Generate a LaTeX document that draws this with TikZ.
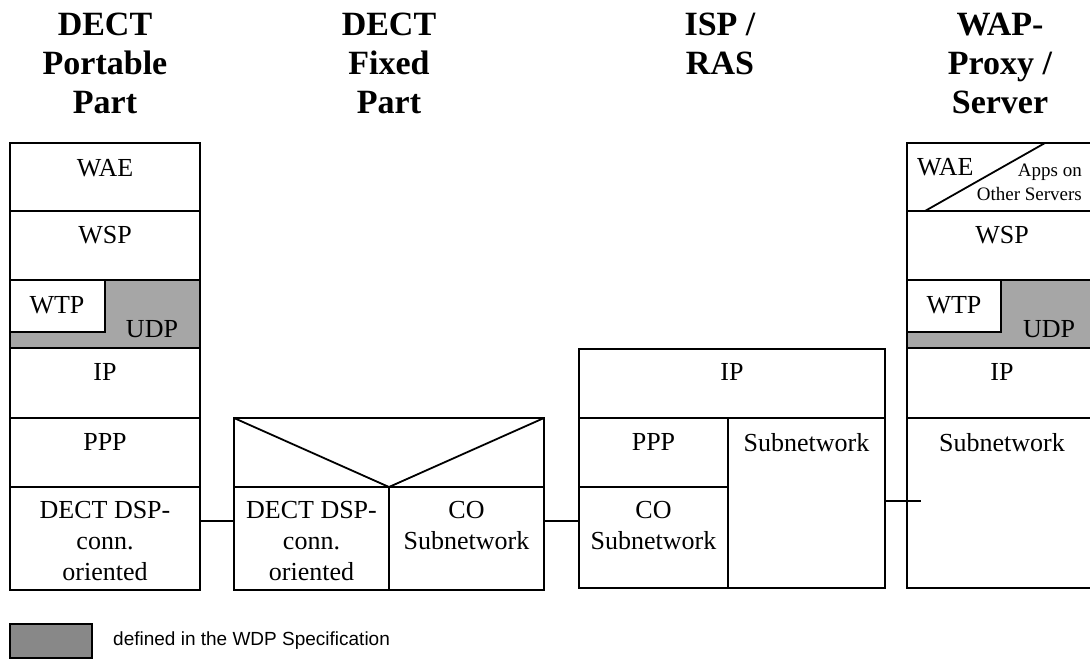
\documentclass[tikz,border=0pt]{standalone}
\usepackage{fontspec}
\setmainfont{Liberation Serif}
\newfontfamily\legfont{Liberation Sans}
\definecolor{udpgray}{RGB}{166,166,166}
\definecolor{leggray}{RGB}{136,136,136}
\begin{document}
\begin{tikzpicture}[x=1pt,y=-1pt,
  cell/.style={draw=black,line width=1.8pt,fill=white,rectangle,inner sep=0pt,outer sep=0pt,anchor=north west},
  gcell/.style={cell,fill=udpgray},
  lbl/.style={inner sep=0pt,anchor=north,align=center,font=\fontsize{26}{31}\selectfont},
  small/.style={inner sep=0pt,anchor=north east,align=right,font=\fontsize{19}{24}\selectfont},
  hdr/.style={inner sep=0pt,anchor=north,align=center,font=\fontsize{34}{39}\selectfont\bfseries},
  conn/.style={draw=black,line width=1.8pt}]
\useasboundingbox (0,0) rectangle (1090,659);
\clip (0,0) rectangle (1090,659);
\fill[white] (0,0) rectangle (1090,659);

% headers
\node[hdr] (h1) at (105,13) {DECT\\Portable\\Part};
\node[hdr] (h2) at (389,13) {DECT\\Fixed\\Part};
\node[hdr] (h3) at (720,13) {ISP /\\RAS};
\node[hdr] (h4) at (1000,13) {WAP-\\Proxy /\\Server};

% left column
\node[cell,minimum width=190pt,minimum height=68pt] (waeL) at (10,143) {};
\node[cell,minimum width=190pt,minimum height=69pt] (wspL) at (10,211) {};
\node[gcell,minimum width=190pt,minimum height=68pt] (udpL) at (10,280) {};
\node[cell,minimum width=95pt,minimum height=52pt] (wtpL) at (10,280) {};
\node[cell,minimum width=190pt,minimum height=70pt] (ipL) at (10,348) {};
\node[cell,minimum width=190pt,minimum height=69pt] (pppL) at (10,418) {};
\node[cell,minimum width=190pt,minimum height=103pt] (dectL) at (10,487) {};

\node[lbl] (tWaeL) at (105,159) {WAE};
\node[lbl] (tWspL) at (105,226) {WSP};
\node[lbl] (tWtpL) at (57,296) {WTP};
\node[lbl] (tUdpL) at (152,320) {UDP};
\node[lbl] (tIpL) at (105,363) {IP};
\node[lbl] (tPppL) at (105,433) {PPP};
\node[lbl] (tDectL) at (105,501) {DECT DSP-\\conn.\\oriented};

% DECT fixed part
\node[cell,minimum width=310pt,minimum height=69pt] (topF) at (234,418) {};
\node[cell,minimum width=155pt,minimum height=103pt] (dectF) at (234,487) {};
\node[cell,minimum width=155pt,minimum height=103pt] (coF) at (389,487) {};
\draw[line width=1.8pt] (topF.north west) -- (dectF.north east) -- (topF.north east);
\node[lbl] (tDectF) at (311.5,501) {DECT DSP-\\conn.\\oriented};
\node[lbl] (tCoF) at (466.5,501) {CO\\Subnetwork};

% ISP / RAS
\node[cell,minimum width=306pt,minimum height=69pt] (ipI) at (579,349) {};
\node[cell,minimum width=149pt,minimum height=69pt] (pppI) at (579,418) {};
\node[cell,minimum width=149pt,minimum height=101pt] (coI) at (579,487) {};
\node[cell,minimum width=157pt,minimum height=170pt] (subI) at (728,418) {};
\node[lbl] (tIpI) at (732,363) {IP};
\node[lbl] (tPppI) at (653.5,433) {PPP};
\node[lbl] (tCoI) at (653.5,501) {CO\\Subnetwork};
\node[lbl] (tSubI) at (806.5,433) {Subnetwork};

% right column
\node[cell,minimum width=190pt,minimum height=68pt] (waeR) at (907,143) {};
\node[cell,minimum width=190pt,minimum height=69pt] (wspR) at (907,211) {};
\node[gcell,minimum width=190pt,minimum height=68pt] (udpR) at (907,280) {};
\node[cell,minimum width=94pt,minimum height=52pt] (wtpR) at (907,280) {};
\node[cell,minimum width=190pt,minimum height=70pt] (ipR) at (907,348) {};
\node[cell,minimum width=190pt,minimum height=170pt] (subR) at (907,418) {};
\coordinate (dA) at (925,211);
\coordinate (dB) at (1045,143);
\draw[line width=1.8pt] (dA) -- (dB);
\node[lbl,anchor=north west] (tWaeR) at (917,158) {WAE};
\node[small] (tApps) at (1082,164) {Apps on\\Other Servers};
\node[lbl] (tWspR) at (1002,226) {WSP};
\node[lbl] (tWtpR) at (954,296) {WTP};
\node[lbl] (tUdpR) at (1049,320) {UDP};
\node[lbl] (tIpR) at (1002,363) {IP};
\node[lbl] (tSubR) at (1002,433) {Subnetwork};

% connectors
\coordinate (yA) at (0,521);
\coordinate (yB) at (0,501);
\coordinate (eR) at (921,501);
\draw[conn] (dectL.east |- yA) -- (dectF.west |- yA);
\draw[conn] (coF.east |- yA) -- (coI.west |- yA);
\draw[conn] (subI.east |- yB) -- (eR);

% legend
\node[cell,fill=leggray,minimum width=82pt,minimum height=34pt] (leg) at (10,624) {};
\node[inner sep=0pt,anchor=base west,font=\legfont\fontsize{19}{23}\selectfont] (tLeg) at (113,645) {defined in the WDP Specification};
\end{tikzpicture}
\end{document}
